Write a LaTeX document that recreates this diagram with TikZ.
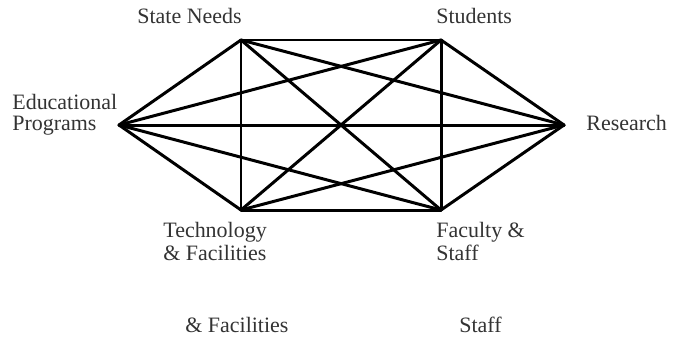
\documentclass[tikz,border=0pt]{standalone}
\usepackage{fontspec}
\setmainfont{Liberation Serif}
\usepackage{tikz}

\begin{document}
\begin{tikzpicture}[x=0.02cm, y=-0.02cm,
    lbl/.style={anchor=base west, inner sep=0pt, align=left, text=black!80,
                font=\fontsize{12.5}{13}\selectfont},
    link/.style={black, line width=1.7pt, line cap=round}]
            \useasboundingbox (0,0) rectangle (678,339);
            % corners of the hexagon
            \coordinate (needs) at (241,40);
            \coordinate (students) at (441,40);
            \coordinate (research) at (564,125);
            \coordinate (faculty) at (441,210);
            \coordinate (tech) at (241,210);
            \coordinate (edu) at (119,125);
            % every corner joined to every other one
            \foreach \a/\b in {needs/students, needs/research, needs/faculty, needs/tech, needs/edu,
                               students/research, students/faculty, students/tech, students/edu,
                               research/faculty, research/tech, research/edu,
                               faculty/tech, faculty/edu, tech/edu}
                \draw[link] (\a) -- (\b);
            % labels (two-line ones sit on the baseline of their last line)
            \node[lbl] (needslbl) at (137,23) {State Needs};
            \node[lbl] (studentslbl) at (436,23) {Students};
            \node[lbl] (researchlbl) at (586,130) {Research};
            \node[lbl, font=\fontsize{12.5}{11.5}\selectfont] (edulbl) at (12,130) {Educational\\Programs};
            \node[lbl] (techlbl) at (163,260) {Technology\\\& Facilities};
            \node[lbl] (facultylbl) at (436,260) {Faculty \&\\Staff};
            \node[lbl] (faclbl) at (185,332) {\& Facilities};
            \node[lbl] (stafflbl) at (459,332) {Staff};
        \end{tikzpicture}
\end{document}
